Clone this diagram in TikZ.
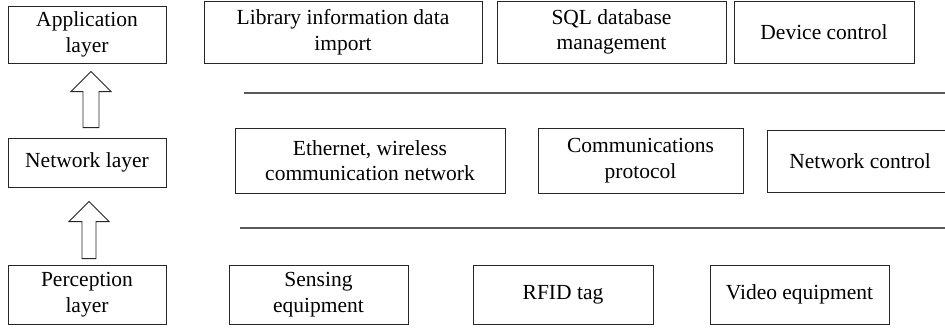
\documentclass[tikz,border=0pt]{standalone}
\usepackage{fontspec}
\setmainfont{Liberation Serif}
\usetikzlibrary{calc}
\begin{document}
\begin{tikzpicture}[x=1pt,y=-1pt,
  box/.style={draw=black!85,line width=0.9pt,align=center,inner sep=0pt,
    font=\fontsize{21.5}{25.5}\selectfont},
  sepline/.style={draw=black!65,line width=1.6pt},
  blockarrow/.style={draw=black!85,line width=0.9pt,fill=white,line join=miter}]
\clip (0,0) rectangle (945,330);
\useasboundingbox (0,0) rectangle (945,330);
% left column
\node[box,minimum width=158pt,minimum height=57pt] (app) at (87,34.5) {Application\\layer};
\node[box,minimum width=158pt,minimum height=49pt] (net) at (87,162.5) {Network layer};
\node[box,minimum width=158pt,minimum height=59pt] (per) at (87,294.5) {Perception\\layer};
% application row
\node[box,minimum width=278pt,minimum height=62pt] (lib) at (343,32) {Library information data\\import};
\node[box,minimum width=229pt,minimum height=62pt] (sql) at (611.5,32) {SQL database\\management};
\node[box,minimum width=180pt,minimum height=62pt] (dev) at (824,32) {Device control};
% network row
\node[box,minimum width=270pt,minimum height=65pt] (eth) at (370,160.5) {Ethernet, wireless\\communication network};
\node[box,minimum width=205pt,minimum height=65pt] (com) at (640.5,160.5) {Communications\\protocol};
\node[box,minimum width=186pt,minimum height=62pt] (nc) at (860,161) {};
\node[font=\fontsize{21.5}{25.5}\selectfont,inner sep=0pt] (nct) at (860,161) {Network control};
% perception row
\node[box,minimum width=179pt,minimum height=59pt] (sen) at (318.5,294.5) {Sensing\\equipment};
\node[box,minimum width=180pt,minimum height=59pt] (rfid) at (563,294.5) {RFID tag};
\node[box,minimum width=179pt,minimum height=59pt] (vid) at (799.5,294.5) {Video equipment};
% separators
\coordinate (s1a) at (244,93);
\coordinate (s1b) at (945,93);
\coordinate (s2a) at (240,228);
\coordinate (s2b) at (945,228);
\draw[sepline] (s1a) -- (s1b);
\draw[sepline] (s2a) -- (s2b);
% block arrows
\draw[blockarrow] ($(net.north)+(-4,-10)$) -- ++(0,-36) -- ++(-12,0) -- ++(20,-20)
  -- ++(20,20) -- ++(-12,0) -- ++(0,36) -- cycle;
\draw[blockarrow] ($(per.north)+(-5,-6)$) -- ++(0,-37) -- ++(-13,0) -- ++(20,-20)
  -- ++(20,20) -- ++(-13,0) -- ++(0,37) -- cycle;
\end{tikzpicture}
\end{document}
